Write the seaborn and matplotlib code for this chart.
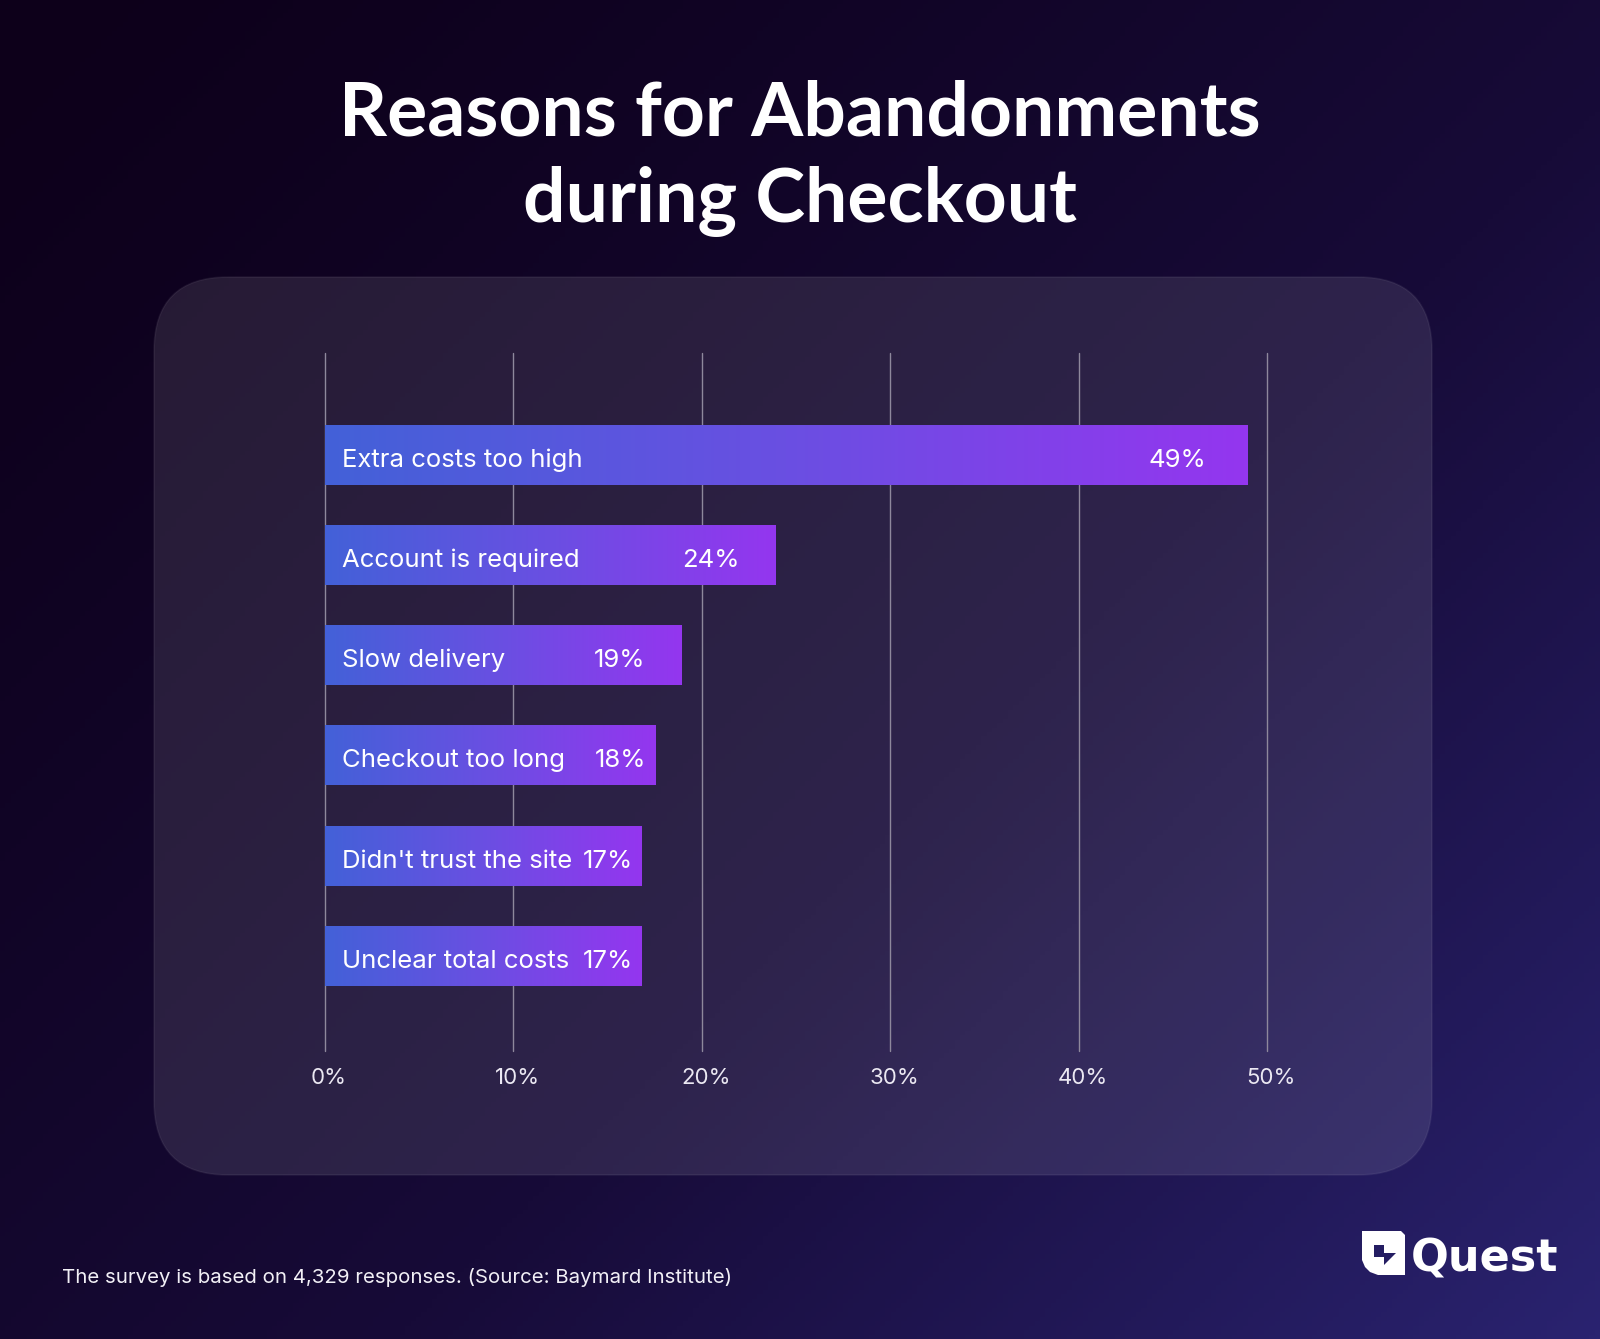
import numpy as np
import pandas as pd
import seaborn as sns
import matplotlib.pyplot as plt
from matplotlib.patches import FancyBboxPatch, Polygon
from matplotlib.colors import LinearSegmentedColormap
from matplotlib.transforms import ScaledTranslation

# Chart data
reasons = ['Extra costs too high', 'Account is required', 'Slow delivery',
           'Checkout too long', "Didn't trust the site", 'Unclear total costs']
shares = [48.9, 23.9, 18.9, 17.5, 16.8, 16.8]
share_labels = ['49%', '24%', '19%', '18%', '17%', '17%']
ticks = [0, 10, 20, 30, 40, 50]
tick_labels = ['0%', '10%', '20%', '30%', '40%', '50%']

W, H = 1600, 1339
sns.set_theme(style='white')
plt.rcParams['font.family'] = ['Inter', 'DejaVu Sans']

fig = plt.figure(figsize=(W / 100, H / 100), dpi=100)

# Background gradient, pixel coordinates (y down)
bg = fig.add_axes([0, 0, 1, 1])
bg.set_axis_off()
yy, xx = np.mgrid[0:1:300j, 0:1:300j]
t = np.clip((0.55 * xx + 0.45 * yy), 0, 1) ** 1.3
bg_cmap = LinearSegmentedColormap.from_list('bg', ['#0d001a', '#170b38', '#2a2370'])
bg.imshow(t, cmap=bg_cmap, extent=[0, W, H, 0], aspect='auto', zorder=0)
bg.set_xlim(0, W)
bg.set_ylim(H, 0)

# Translucent rounded panel
panel = FancyBboxPatch((154, 277), 1278, 898, boxstyle='round,pad=0,rounding_size=74',
                       facecolor=(1, 1, 1, 0.10), edgecolor=(1, 1, 1, 0.06), lw=1.2, zorder=1)
bg.add_patch(panel)

# Title and footnote
bg.text(W / 2, 135, 'Reasons for Abandonments', ha='center', va='baseline',
        color='white', fontsize=54, fontweight='bold', family=['Lato', 'DejaVu Sans'])
bg.text(W / 2, 222, 'during Checkout', ha='center', va='baseline',
        color='white', fontsize=54, fontweight='bold', family=['Lato', 'DejaVu Sans'])
bg.text(62, 1283, 'The survey is based on 4,329 responses. (Source: Baymard Institute)',
        ha='left', va='baseline', color='#f2f0f6', fontsize=14.7)

# Logo
ox, oy = 1362, 1231
shield = [(0, 0), (39, 0), (43, 4), (43, 44), (16, 44), (8, 41), (3, 36), (0, 29)]
bg.add_patch(Polygon([(ox + x, oy + y) for x, y in shield], closed=True,
                     facecolor='white', edgecolor='none', zorder=3))
hole = [(12, 14), (22, 14), (22, 22), (34, 22), (22, 34), (22, 26), (12, 26)]
bg.add_patch(Polygon([(ox + x, oy + y) for x, y in hole], closed=True,
                     facecolor='#241d62', edgecolor='none', zorder=4))
bg.text(1411, 1271, 'Quest', ha='left', va='baseline', color='white',
        fontsize=32, fontweight='bold', family=['DejaVu Sans'])

# Main bar axes
ax = fig.add_axes([324.5 / W, 1 - 1051 / H, (1267.4 - 324.5) / W, (1051 - 353) / H])
ax.patch.set_alpha(0)
df = pd.DataFrame({'reason': reasons, 'share': shares})
sns.barplot(data=df, x='share', y='reason', orient='h', width=0.6, ax=ax,
            color='#6a4ce0', zorder=2)

bar_cmap = LinearSegmentedColormap.from_list('bar', ['#4361d8', '#6a4fe2', '#9436ef'])
grad = np.linspace(0, 1, 256).reshape(1, -1)
for p in ax.patches:
    x0, y0, w, h = p.get_x(), p.get_y(), p.get_width(), p.get_height()
    im = ax.imshow(grad, cmap=bar_cmap, extent=[x0, x0 + w, y0 + h, y0],
                   aspect='auto', zorder=2)
    im.set_clip_path(p)
    p.set_facecolor('none')
    p.set_edgecolor('none')

ax.set_xlim(0, 50)
ax.set_ylim(5.95, -1.015)
ax.set_xticks(ticks)
ax.set_xticklabels(tick_labels)
ax.set_yticks([])
ax.set_xlabel('')
ax.set_ylabel('')
for s in ax.spines.values():
    s.set_visible(False)
ax.grid(axis='x', color='#8e889c', lw=1, zorder=0)
ax.grid(axis='y', visible=False)
for gl in ax.get_xgridlines():
    gl.set_clip_on(False)
ax.set_axisbelow(True)
ax.tick_params(axis='x', length=0, pad=12, labelsize=16, labelcolor='#ebe8f2')
shift = ScaledTranslation(4 / 100, 0, fig.dpi_scale_trans)
for lab in ax.get_xticklabels():
    lab.set_transform(lab.get_transform() + shift)

name_off = ScaledTranslation(17 / 100, -3 / 100, fig.dpi_scale_trans)
for i, (name, val, lab) in enumerate(zip(reasons, shares, share_labels)):
    ax.text(0, i, name, ha='left', va='center_baseline', color='white', fontsize=18.5,
            transform=ax.transData + name_off, zorder=3)
    if val > 40:
        pad = 40
    elif val > 18:
        pad = 36
    else:
        pad = 8
    val_off = ScaledTranslation(-pad / 100, -3 / 100, fig.dpi_scale_trans)
    ax.text(val, i, lab, ha='right', va='center_baseline', color='white', fontsize=18.5,
            transform=ax.transData + val_off, zorder=3)

fig.savefig('out.png', dpi=100, facecolor=fig.get_facecolor())
